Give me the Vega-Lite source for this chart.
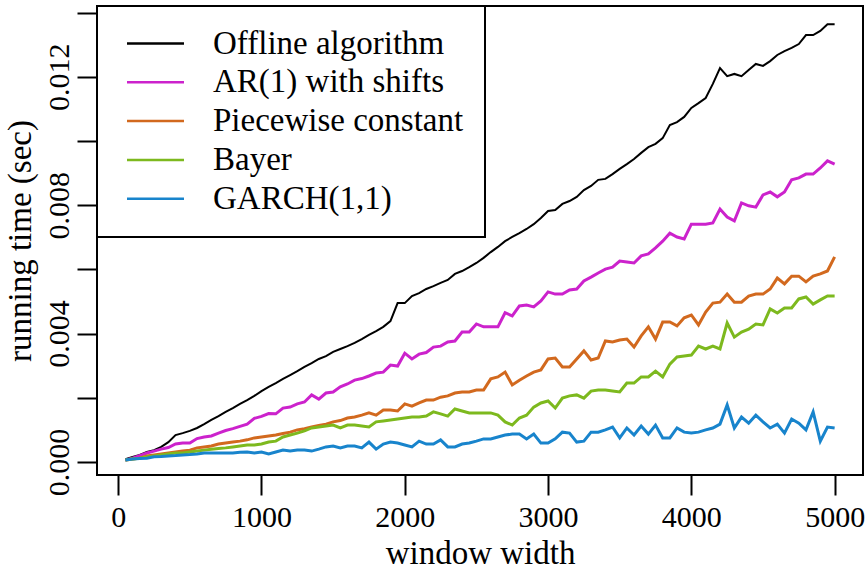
{
  "$schema": "https://vega.github.io/schema/vega-lite/v6.json",
  "width": 766,
  "height": 469,
  "autosize": {"type": "none"},
  "padding": {"left": 97, "top": 6, "right": 5, "bottom": 97},
  "background": "white",
  "datasets": {
    "methods": [
      {"key": "off", "method": "Offline algorithm"},
      {"key": "ar", "method": "AR(1) with shifts"},
      {"key": "pc", "method": "Piecewise constant"},
      {"key": "bay", "method": "Bayer"},
      {"key": "garch", "method": "GARCH(1,1)"}
    ],
    "timings": [
      {"w": 50, "off": 0.00009, "ar": 0.00006, "pc": 0.00006, "bay": 0.00006, "garch": 0.00006},
      {"w": 100, "off": 0.00016, "ar": 0.00012, "pc": 0.00009, "bay": 0.00009, "garch": 0.00009},
      {"w": 150, "off": 0.00022, "ar": 0.0002, "pc": 0.00012, "bay": 0.00012, "garch": 0.00011},
      {"w": 200, "off": 0.00031, "ar": 0.00028, "pc": 0.00019, "bay": 0.00016, "garch": 0.00012},
      {"w": 250, "off": 0.00037, "ar": 0.00034, "pc": 0.00022, "bay": 0.00019, "garch": 0.00016},
      {"w": 300, "off": 0.00047, "ar": 0.0004, "pc": 0.00025, "bay": 0.00022, "garch": 0.00017},
      {"w": 350, "off": 0.00062, "ar": 0.00045, "pc": 0.00028, "bay": 0.00025, "garch": 0.00019},
      {"w": 400, "off": 0.00084, "ar": 0.00056, "pc": 0.00031, "bay": 0.00028, "garch": 0.0002},
      {"w": 450, "off": 0.0009, "ar": 0.00059, "pc": 0.00034, "bay": 0.00028, "garch": 0.00022},
      {"w": 500, "off": 0.00097, "ar": 0.00059, "pc": 0.00037, "bay": 0.00031, "garch": 0.00023},
      {"w": 550, "off": 0.00106, "ar": 0.00073, "pc": 0.00044, "bay": 0.00034, "garch": 0.00025},
      {"w": 600, "off": 0.00118, "ar": 0.00078, "pc": 0.00047, "bay": 0.00037, "garch": 0.00028},
      {"w": 650, "off": 0.00131, "ar": 0.00081, "pc": 0.0005, "bay": 0.0004, "garch": 0.00028},
      {"w": 700, "off": 0.00143, "ar": 0.0009, "pc": 0.00056, "bay": 0.00042, "garch": 0.00028},
      {"w": 750, "off": 0.00156, "ar": 0.00098, "pc": 0.00059, "bay": 0.00044, "garch": 0.00028},
      {"w": 800, "off": 0.00168, "ar": 0.00104, "pc": 0.00062, "bay": 0.00047, "garch": 0.00028},
      {"w": 850, "off": 0.00181, "ar": 0.00111, "pc": 0.00065, "bay": 0.0005, "garch": 0.0003},
      {"w": 900, "off": 0.00193, "ar": 0.00118, "pc": 0.00069, "bay": 0.00053, "garch": 0.00031},
      {"w": 950, "off": 0.00206, "ar": 0.00136, "pc": 0.00075, "bay": 0.00053, "garch": 0.00028},
      {"w": 1000, "off": 0.00221, "ar": 0.00142, "pc": 0.00078, "bay": 0.00056, "garch": 0.00031},
      {"w": 1050, "off": 0.00234, "ar": 0.00151, "pc": 0.00081, "bay": 0.00062, "garch": 0.00025},
      {"w": 1100, "off": 0.00246, "ar": 0.0015, "pc": 0.00084, "bay": 0.00065, "garch": 0.00031},
      {"w": 1150, "off": 0.00259, "ar": 0.00168, "pc": 0.00089, "bay": 0.00078, "garch": 0.00037},
      {"w": 1200, "off": 0.00271, "ar": 0.00171, "pc": 0.00093, "bay": 0.00084, "garch": 0.00034},
      {"w": 1250, "off": 0.00283, "ar": 0.00181, "pc": 0.001, "bay": 0.0009, "garch": 0.00037},
      {"w": 1300, "off": 0.00296, "ar": 0.00187, "pc": 0.00104, "bay": 0.00097, "garch": 0.00037},
      {"w": 1350, "off": 0.00308, "ar": 0.00209, "pc": 0.00109, "bay": 0.00106, "garch": 0.00034},
      {"w": 1400, "off": 0.00321, "ar": 0.00196, "pc": 0.00114, "bay": 0.00109, "garch": 0.0004},
      {"w": 1450, "off": 0.0033, "ar": 0.00215, "pc": 0.00118, "bay": 0.00112, "garch": 0.00047},
      {"w": 1500, "off": 0.00343, "ar": 0.00218, "pc": 0.00125, "bay": 0.00115, "garch": 0.0005},
      {"w": 1550, "off": 0.00352, "ar": 0.00234, "pc": 0.00129, "bay": 0.00106, "garch": 0.00044},
      {"w": 1600, "off": 0.00361, "ar": 0.00243, "pc": 0.00137, "bay": 0.00115, "garch": 0.0005},
      {"w": 1650, "off": 0.00371, "ar": 0.00255, "pc": 0.0014, "bay": 0.00115, "garch": 0.0005},
      {"w": 1700, "off": 0.00383, "ar": 0.0026, "pc": 0.00146, "bay": 0.00112, "garch": 0.00044},
      {"w": 1750, "off": 0.00396, "ar": 0.00268, "pc": 0.00153, "bay": 0.00109, "garch": 0.00062},
      {"w": 1800, "off": 0.00408, "ar": 0.00277, "pc": 0.00146, "bay": 0.00125, "garch": 0.0004},
      {"w": 1850, "off": 0.00421, "ar": 0.0028, "pc": 0.00162, "bay": 0.00128, "garch": 0.00056},
      {"w": 1900, "off": 0.00439, "ar": 0.00302, "pc": 0.00162, "bay": 0.00131, "garch": 0.00062},
      {"w": 1950, "off": 0.00495, "ar": 0.00299, "pc": 0.00159, "bay": 0.00134, "garch": 0.00059},
      {"w": 2000, "off": 0.00495, "ar": 0.00339, "pc": 0.00181, "bay": 0.00137, "garch": 0.00053},
      {"w": 2050, "off": 0.00517, "ar": 0.00321, "pc": 0.00174, "bay": 0.0014, "garch": 0.00047},
      {"w": 2100, "off": 0.00526, "ar": 0.00336, "pc": 0.00184, "bay": 0.0014, "garch": 0.00065},
      {"w": 2150, "off": 0.00539, "ar": 0.00341, "pc": 0.00193, "bay": 0.00143, "garch": 0.00056},
      {"w": 2200, "off": 0.00548, "ar": 0.00358, "pc": 0.00193, "bay": 0.00156, "garch": 0.00056},
      {"w": 2250, "off": 0.00558, "ar": 0.00361, "pc": 0.00202, "bay": 0.0015, "garch": 0.00069},
      {"w": 2300, "off": 0.00567, "ar": 0.00374, "pc": 0.00206, "bay": 0.00143, "garch": 0.00047},
      {"w": 2350, "off": 0.00586, "ar": 0.00377, "pc": 0.00215, "bay": 0.00165, "garch": 0.00047},
      {"w": 2400, "off": 0.00595, "ar": 0.00405, "pc": 0.00218, "bay": 0.00159, "garch": 0.00056},
      {"w": 2450, "off": 0.00607, "ar": 0.00405, "pc": 0.00218, "bay": 0.00153, "garch": 0.00059},
      {"w": 2500, "off": 0.0062, "ar": 0.0043, "pc": 0.00224, "bay": 0.00153, "garch": 0.00065},
      {"w": 2550, "off": 0.00636, "ar": 0.00421, "pc": 0.00224, "bay": 0.00153, "garch": 0.00072},
      {"w": 2600, "off": 0.00654, "ar": 0.00421, "pc": 0.00259, "bay": 0.00153, "garch": 0.00072},
      {"w": 2650, "off": 0.0067, "ar": 0.00421, "pc": 0.00265, "bay": 0.00146, "garch": 0.00078},
      {"w": 2700, "off": 0.00688, "ar": 0.00465, "pc": 0.0028, "bay": 0.00125, "garch": 0.00084},
      {"w": 2750, "off": 0.00701, "ar": 0.00455, "pc": 0.0024, "bay": 0.00115, "garch": 0.00087},
      {"w": 2800, "off": 0.00713, "ar": 0.00486, "pc": 0.00255, "bay": 0.00137, "garch": 0.00087},
      {"w": 2850, "off": 0.00726, "ar": 0.00489, "pc": 0.00268, "bay": 0.00146, "garch": 0.00072},
      {"w": 2900, "off": 0.00741, "ar": 0.00483, "pc": 0.0028, "bay": 0.00171, "garch": 0.00087},
      {"w": 2950, "off": 0.0076, "ar": 0.00502, "pc": 0.00287, "bay": 0.00184, "garch": 0.00059},
      {"w": 3000, "off": 0.00782, "ar": 0.0053, "pc": 0.00321, "bay": 0.0019, "garch": 0.00059},
      {"w": 3050, "off": 0.00785, "ar": 0.00523, "pc": 0.00324, "bay": 0.00168, "garch": 0.00072},
      {"w": 3100, "off": 0.00804, "ar": 0.00523, "pc": 0.00296, "bay": 0.00199, "garch": 0.00093},
      {"w": 3150, "off": 0.00813, "ar": 0.00536, "pc": 0.00296, "bay": 0.00206, "garch": 0.0009},
      {"w": 3200, "off": 0.00826, "ar": 0.00539, "pc": 0.00321, "bay": 0.00209, "garch": 0.00062},
      {"w": 3250, "off": 0.00847, "ar": 0.00564, "pc": 0.00346, "bay": 0.00199, "garch": 0.00065},
      {"w": 3300, "off": 0.0086, "ar": 0.00576, "pc": 0.00318, "bay": 0.00221, "garch": 0.00093},
      {"w": 3350, "off": 0.00879, "ar": 0.00589, "pc": 0.00324, "bay": 0.00224, "garch": 0.00093},
      {"w": 3400, "off": 0.00882, "ar": 0.00601, "pc": 0.00377, "bay": 0.00224, "garch": 0.001},
      {"w": 3450, "off": 0.00897, "ar": 0.00607, "pc": 0.00374, "bay": 0.00221, "garch": 0.00109},
      {"w": 3500, "off": 0.00913, "ar": 0.00626, "pc": 0.0038, "bay": 0.00218, "garch": 0.00075},
      {"w": 3550, "off": 0.00928, "ar": 0.00623, "pc": 0.00383, "bay": 0.00246, "garch": 0.00106},
      {"w": 3600, "off": 0.00944, "ar": 0.0062, "pc": 0.00358, "bay": 0.00246, "garch": 0.00084},
      {"w": 3650, "off": 0.00963, "ar": 0.00642, "pc": 0.00393, "bay": 0.00265, "garch": 0.00112},
      {"w": 3700, "off": 0.00981, "ar": 0.00648, "pc": 0.00421, "bay": 0.00265, "garch": 0.00087},
      {"w": 3750, "off": 0.00991, "ar": 0.00667, "pc": 0.00383, "bay": 0.00283, "garch": 0.00115},
      {"w": 3800, "off": 0.01009, "ar": 0.00688, "pc": 0.00436, "bay": 0.00265, "garch": 0.00075},
      {"w": 3850, "off": 0.0105, "ar": 0.00713, "pc": 0.00436, "bay": 0.00305, "garch": 0.00075},
      {"w": 3900, "off": 0.01059, "ar": 0.00701, "pc": 0.00424, "bay": 0.00327, "garch": 0.00106},
      {"w": 3950, "off": 0.01075, "ar": 0.00695, "pc": 0.00449, "bay": 0.0033, "garch": 0.00093},
      {"w": 4000, "off": 0.01103, "ar": 0.00741, "pc": 0.00458, "bay": 0.00333, "garch": 0.0009},
      {"w": 4050, "off": 0.01118, "ar": 0.00741, "pc": 0.00427, "bay": 0.00361, "garch": 0.00093},
      {"w": 4100, "off": 0.01134, "ar": 0.00741, "pc": 0.00467, "bay": 0.00352, "garch": 0.001},
      {"w": 4150, "off": 0.01178, "ar": 0.00745, "pc": 0.00495, "bay": 0.00361, "garch": 0.00106},
      {"w": 4200, "off": 0.01227, "ar": 0.00788, "pc": 0.00498, "bay": 0.00352, "garch": 0.00118},
      {"w": 4250, "off": 0.01202, "ar": 0.00763, "pc": 0.00523, "bay": 0.00433, "garch": 0.00178},
      {"w": 4300, "off": 0.01209, "ar": 0.00751, "pc": 0.00498, "bay": 0.00389, "garch": 0.00106},
      {"w": 4350, "off": 0.01202, "ar": 0.00807, "pc": 0.00498, "bay": 0.00405, "garch": 0.0014},
      {"w": 4400, "off": 0.01221, "ar": 0.00798, "pc": 0.00517, "bay": 0.00414, "garch": 0.00121},
      {"w": 4450, "off": 0.0124, "ar": 0.00794, "pc": 0.00523, "bay": 0.0043, "garch": 0.00146},
      {"w": 4500, "off": 0.01234, "ar": 0.00832, "pc": 0.00523, "bay": 0.00427, "garch": 0.00125},
      {"w": 4550, "off": 0.01249, "ar": 0.00841, "pc": 0.00539, "bay": 0.00477, "garch": 0.00106},
      {"w": 4600, "off": 0.01268, "ar": 0.00826, "pc": 0.00573, "bay": 0.00464, "garch": 0.00118},
      {"w": 4650, "off": 0.0128, "ar": 0.00841, "pc": 0.00555, "bay": 0.0048, "garch": 0.0009},
      {"w": 4700, "off": 0.0129, "ar": 0.00879, "pc": 0.00579, "bay": 0.0048, "garch": 0.00134},
      {"w": 4750, "off": 0.01302, "ar": 0.00885, "pc": 0.00579, "bay": 0.00508, "garch": 0.00121},
      {"w": 4800, "off": 0.0133, "ar": 0.00897, "pc": 0.00561, "bay": 0.00514, "garch": 0.001},
      {"w": 4850, "off": 0.0133, "ar": 0.00897, "pc": 0.00579, "bay": 0.00492, "garch": 0.00156},
      {"w": 4900, "off": 0.01343, "ar": 0.00916, "pc": 0.00586, "bay": 0.00505, "garch": 0.00065},
      {"w": 4950, "off": 0.01364, "ar": 0.00938, "pc": 0.00595, "bay": 0.00517, "garch": 0.00109},
      {"w": 5000, "off": 0.01364, "ar": 0.00928, "pc": 0.00639, "bay": 0.00517, "garch": 0.00106}
    ]
  },
  "data": {"name": "timings"},
  "transform": [
    {"fold": ["off", "ar", "pc", "bay", "garch"], "as": ["key", "time"]},
    {"lookup": "key", "from": {"data": {"name": "methods"}, "key": "key", "fields": ["method"]}}
  ],
  "mark": {"type": "line", "clip": true},
  "encoding": {
    "x": {
      "field": "w",
      "type": "quantitative",
      "scale": {"domain": [-148, 5198], "nice": false, "zero": false},
      "axis": {
        "values": [0, 1000, 2000, 3000, 4000, 5000],
        "format": "d",
        "title": "window width",
        "labelPadding": 7,
        "titlePadding": 5
      }
    },
    "y": {
      "field": "time",
      "type": "quantitative",
      "scale": {"domain": [-0.000405, 0.014206], "nice": false, "zero": false},
      "axis": {
        "values": [0, 0.002, 0.004, 0.006, 0.008, 0.01, 0.012, 0.014],
        "labelExpr": "round(datum.value * 1000) % 4 == 0 ? format(datum.value, '.3f') : ''",
        "labelAngle": -90,
        "labelAlign": "center",
        "labelBaseline": "bottom",
        "labelPadding": 3,
        "title": "running time (sec)",
        "titlePadding": 7
      }
    },
    "color": {
      "field": "method",
      "type": "nominal",
      "scale": {
        "domain": ["Offline algorithm", "AR(1) with shifts", "Piecewise constant", "Bayer", "GARCH(1,1)"],
        "range": ["#000000", "#CC22CC", "#D2691E", "#7DB91E", "#1884CC"]
      },
      "legend": {
        "title": null,
        "orient": "none",
        "legendX": 0,
        "legendY": 0
      }
    },
    "strokeWidth": {
      "condition": {"test": "datum.key == 'off'", "value": 2},
      "value": 3
    }
  },
  "config": {
    "view": {"stroke": "#000000", "strokeWidth": 2},
    "axis": {
      "grid": false,
      "domain": false,
      "tickColor": "#000000",
      "tickWidth": 2,
      "tickSize": 20,
      "labelFont": "Liberation Serif",
      "labelFontSize": 30,
      "labelColor": "#000000",
      "titleFont": "Liberation Serif",
      "titleFontSize": 33,
      "titleFontWeight": "normal",
      "titleColor": "#000000"
    },
    "legend": {
      "labelFont": "Liberation Serif",
      "labelFontSize": 33,
      "labelColor": "#000000",
      "labelLimit": 0,
      "padding": 21,
      "rowPadding": 4.8,
      "symbolType": "M-2,0H2",
      "symbolSize": 812,
      "symbolStrokeWidth": 2.5,
      "symbolOffset": 21,
      "labelOffset": 41,
      "strokeColor": "#000000",
      "strokeWidth": 2,
      "fillColor": "#FFFFFF"
    }
  }
}
